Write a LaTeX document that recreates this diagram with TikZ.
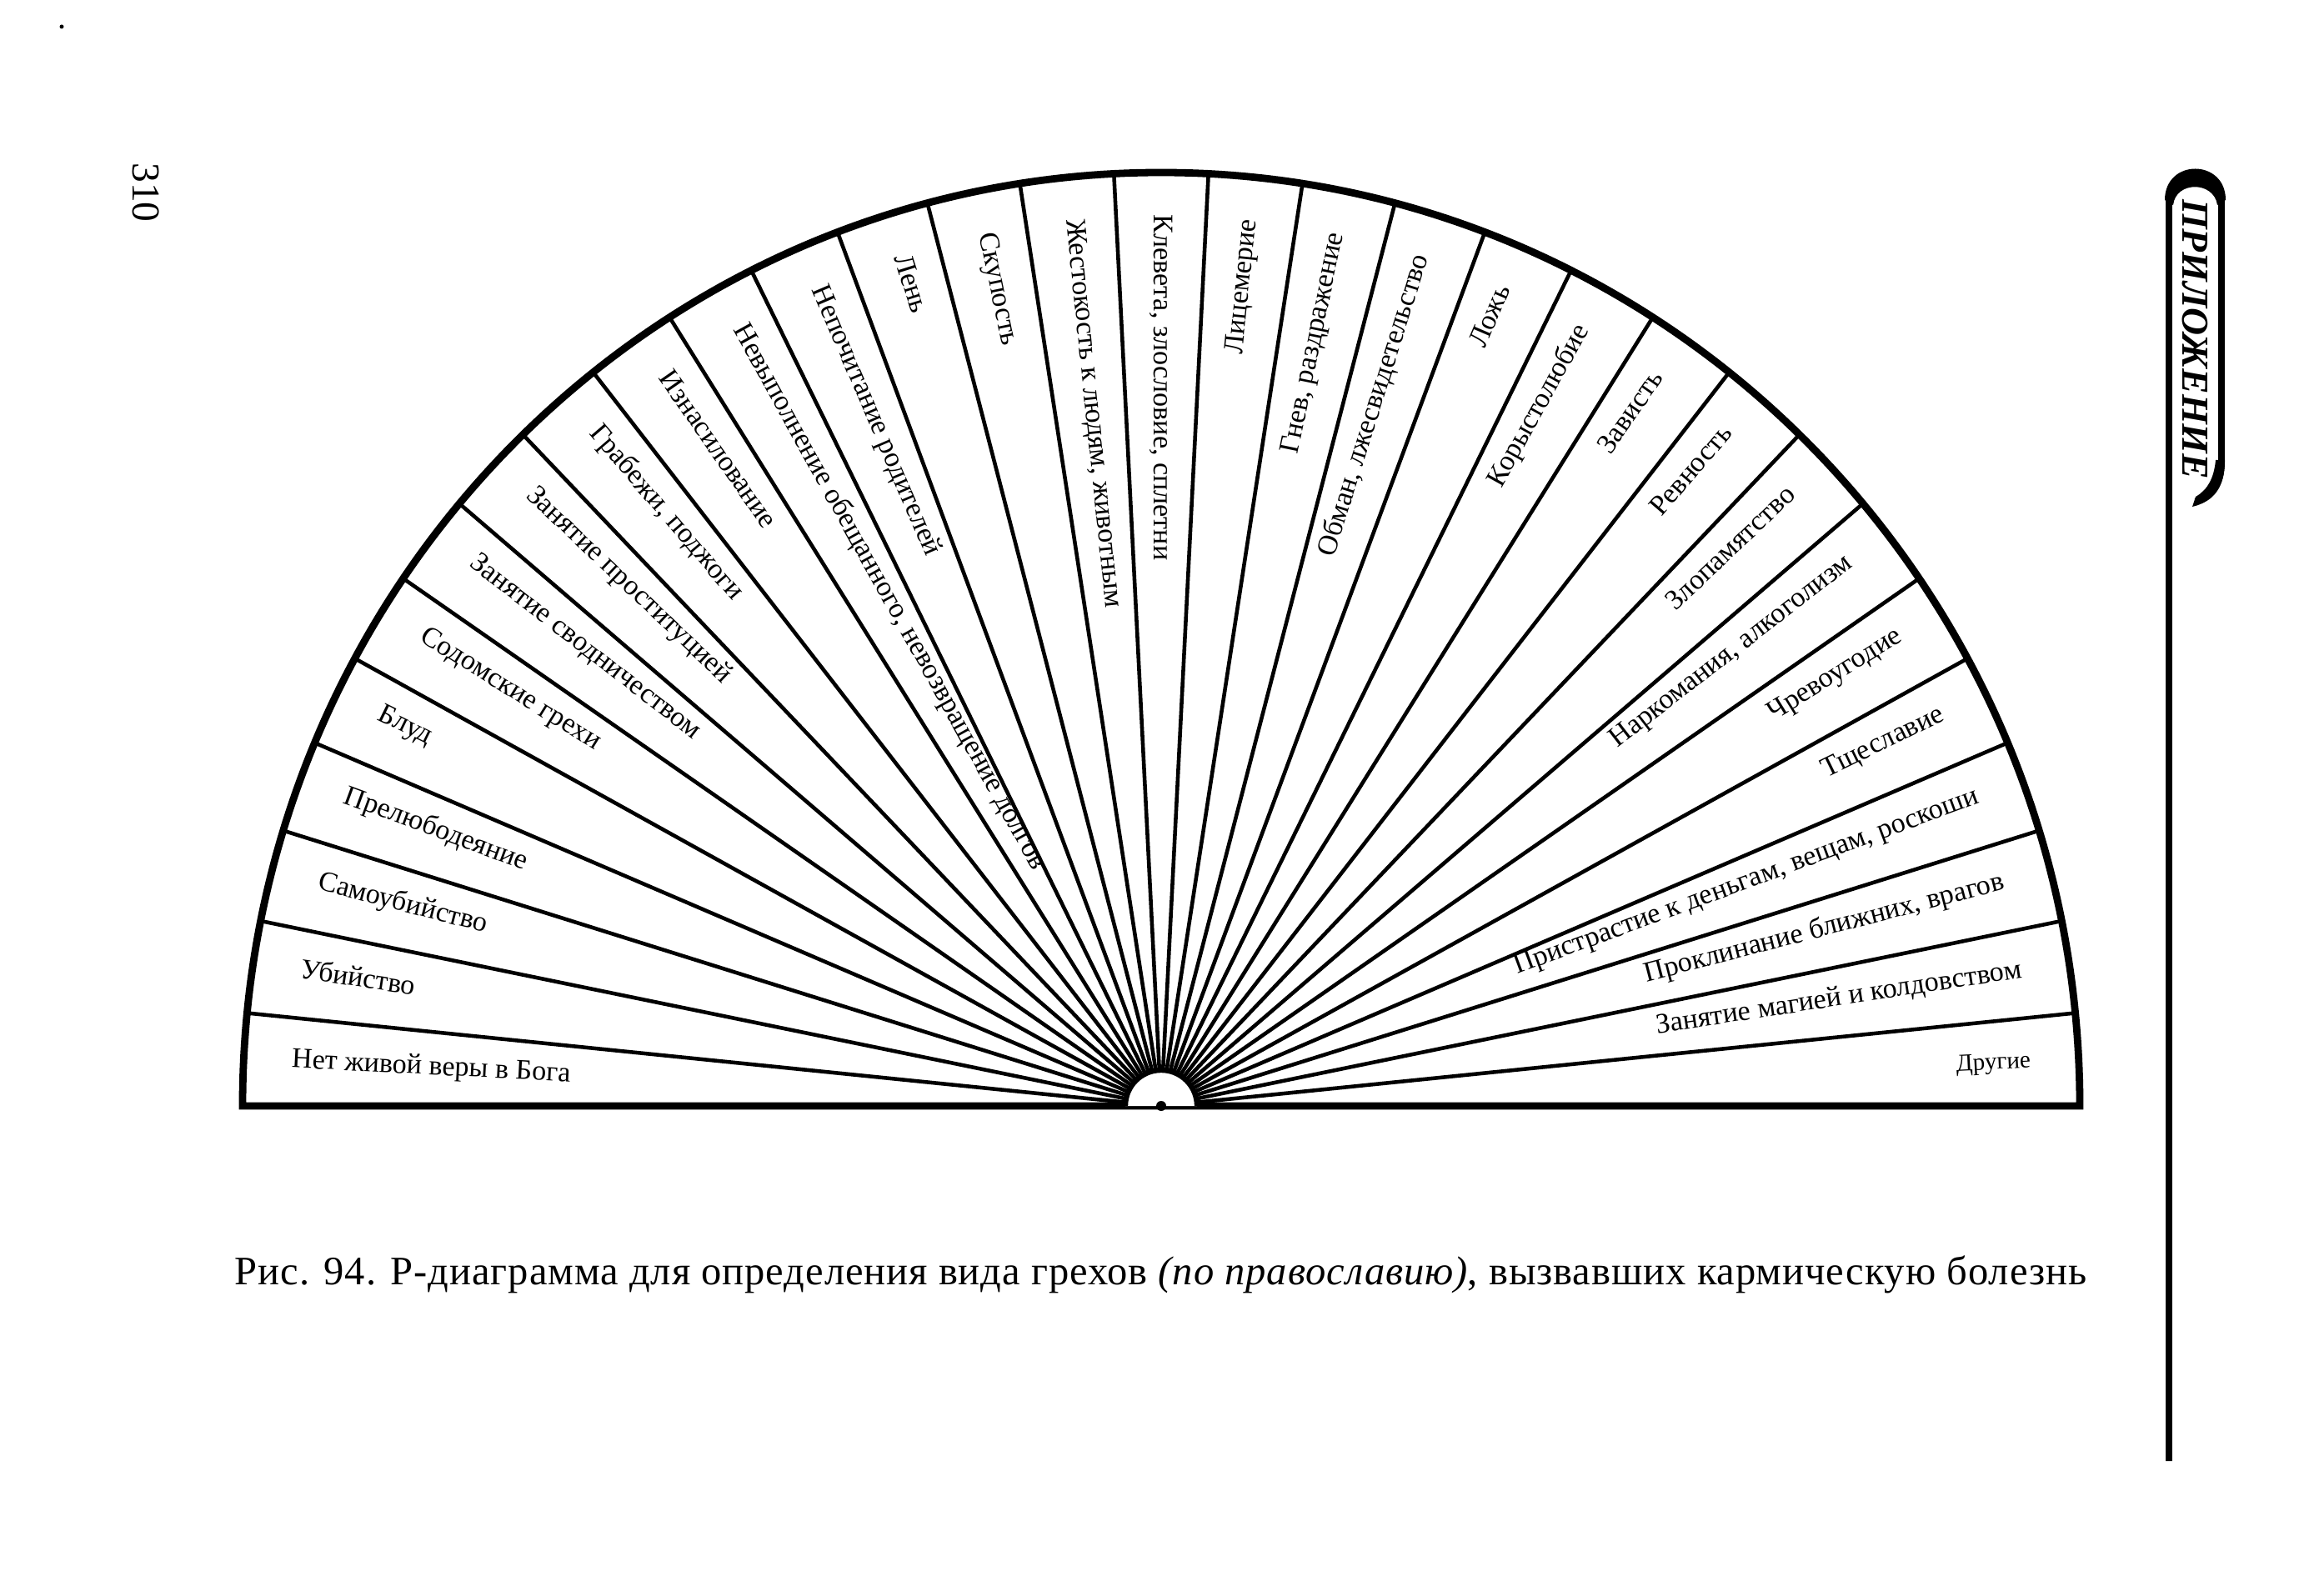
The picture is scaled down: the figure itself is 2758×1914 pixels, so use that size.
\documentclass[tikz,border=0pt]{standalone}
\usepackage{fontspec}
\setmainfont{Liberation Serif}
\begin{document}
\begin{tikzpicture}[x=0.01cm,y=0.01cm,
  ray/.style={line width=1.3pt},
  outer/.style={line width=2.5pt,line join=miter},
  lab/.style={inner sep=0pt,font=\fontsize{9.7}{11}\selectfont},
  smalllab/.style={inner sep=0pt,font=\fontsize{8.3}{10}\selectfont}]
\useasboundingbox (0,0) rectangle (2758,1914);
\fill (74,1882) circle (2.5);
% page number
\node[rotate=-90,inner sep=0pt,font=\fontsize{13.5}{15}\selectfont] (pnum) at (175,1683) {310};
% tab
\draw[line width=2.2pt] (2602,161) -- (2602,1674) .. controls (2602,1712) and (2665,1712) .. (2665,1674) -- (2665,1359) .. controls (2665,1332) and (2652,1318) .. (2634,1312);
\fill (2597,1674) .. controls (2597,1724) and (2670,1724) .. (2670,1674) -- (2660,1668) .. controls (2656,1697) and (2610,1697) .. (2607,1668) -- cycle;
\fill (2669,1362) .. controls (2669,1328) and (2655,1312) .. (2630,1306) -- (2634,1318) .. controls (2648,1326) and (2656,1340) .. (2658,1362) -- cycle;
\node[rotate=-90,inner sep=0pt,font=\fontsize{13}{15}\selectfont\bfseries\itshape] (tab) at (2633,1507) {ПРИЛОЖЕНИЕ};
% fan
\begin{scope}[shift={(1393,587)}]
  \def\sdeg{5.806452}
  \begin{scope}
    \clip (0,0) ellipse [x radius=1102, y radius=1120];
    \foreach \k in {1,...,30} \draw[ray] (0,0) -- (\k*\sdeg:1300);
  \end{scope}
  \draw[outer] (-1102,0) arc[start angle=180,end angle=0,x radius=1102,y radius=1120] -- cycle;
  \filldraw[fill=white,line width=1.8pt] (43,0) arc[start angle=0,end angle=180,radius=43];
  \coordinate (c) at (0,0);
  \fill (c) circle (6);
  % right side labels
  \pgfmathsetmacro\a{0.5*\sdeg}
  \node[smalllab,anchor=mid east,rotate=\a] (r0) at ({1045*cos(\a)},{1070*sin(\a)}) {Другие};
  \foreach \t [count=\j from 1] in {Занятие магией и колдовством,{Проклинание ближних, врагов},{Пристрастие к деньгам, вещам, роскоши},Тщеславие,Чревоугодие,{Наркомания, алкоголизм},Злопамятство,Ревность,Зависть,Корыстолюбие,Ложь,{Обман, лжесвидетельство},{Гнев, раздражение},Лицемерие}{
    \pgfmathsetmacro\a{(\j+0.5)*\sdeg}
    \node[lab,anchor=mid east,rotate=\a] (r\j) at ({1045*cos(\a)},{1070*sin(\a)}) {\t};
  }
  % left side labels
  \foreach \t [count=\j from 15] in {{Клевета, злословие, сплетни},{Жестокость к людям, животным},Скупость,Лень,Непочитание родителей,{Невыполнение обещанного, невозвращение долгов},Изнасилование,{Грабежи, поджоги},Занятие проституцией,Занятие сводничеством,Содомские грехи,Блуд,Прелюбодеяние,Самоубийство,Убийство,Нет живой веры в Бога}{
    \pgfmathsetmacro\a{(\j+0.5)*\sdeg}
    \node[lab,anchor=mid west,rotate=\a-180] (l\j) at ({1045*cos(\a)},{1070*sin(\a)}) {\t};
  }
\end{scope}
% caption
\node[anchor=base west,inner sep=0pt,font=\fontsize{13.8}{16}\selectfont\addfontfeatures{LetterSpace=2}] (cap) at (281,373) {Рис. 94. Р-диаграмма для определения вида грехов \textit{(по православию)}, вызвавших кармическую болезнь};
\end{tikzpicture}
\end{document}
